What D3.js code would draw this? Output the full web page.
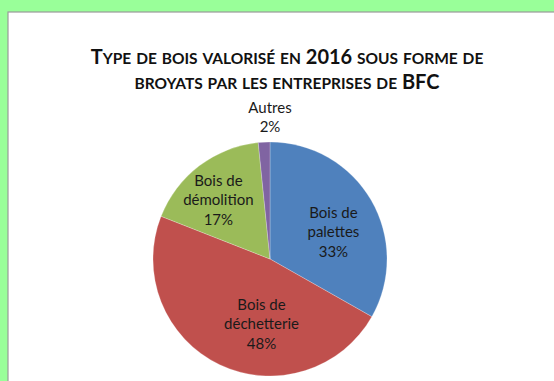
<!DOCTYPE html>
<html><head><meta charset="utf-8">
<script src="https://cdn.jsdelivr.net/npm/d3@7"></script>
<style>
html,body{margin:0;padding:0;background:#99FF99;}
svg{display:block;}
text{font-family:Lato,"Open Sans",sans-serif;}
</style></head>
<body>
<svg id="chart" width="554" height="381"></svg>
<script>
const titleLines = ["Type de bois valorisé en 2016 sous forme de", "broyats par les entreprises de BFC"];
const categories = ["Bois de palettes", "Bois de déchetterie", "Bois de démolition", "Autres"];
const values = [33.1, 47.6, 17.4, 1.6];
const colors = ["#4F81BD", "#C0504D", "#9BBB59", "#8064A2"];

const svg = d3.select("#chart");
svg.append("rect").attr("width",554).attr("height",381).attr("fill","#99FF99");
svg.append("rect").attr("x",8).attr("y",12).attr("width",560).attr("height",380)
  .attr("fill","#fff").attr("stroke","#9a9a9a").attr("stroke-width",1.2);

// Title with small caps
const bigSize = 20, smallSize = 15.5;
titleLines.forEach((line, i) => {
  const t = svg.append("text").attr("x", 287).attr("y", 64 + i*25)
    .attr("text-anchor","middle").attr("font-weight","bold").attr("fill","#111");
  const runs = [];
  for (const ch of line) {
    const small = ch !== ch.toUpperCase() ;
    const last = runs[runs.length-1];
    if (last && last.small === small) last.s += ch; else runs.push({small, s: ch});
  }
  runs.forEach(r => t.append("tspan").attr("font-size", r.small ? smallSize : bigSize)
    .text(r.small ? r.s.toUpperCase() : r.s));
});

const cx = 270, cy = 259, R = 117;
const total = d3.sum(values);
const pie = d3.pie().sort(null).value(d => d.v);
const data = pie(categories.map((c,i) => ({c, v: values[i], col: colors[i]})));
const arc = d3.arc().innerRadius(0).outerRadius(R);
const g = svg.append("g").attr("transform", `translate(${cx},${cy})`);
g.selectAll("path").data(data).join("path")
  .attr("d", arc).attr("fill", d => d.data.col)
  .attr("stroke","#ffffff").attr("stroke-width",0.4).attr("stroke-opacity",0.6);

// label placement (angle shift in degrees, radius fraction) per slice — Excel "best fit"
const place = [
  {da: 7, r: 0.59},
  {da: -18, r: 0.56},
  {da: -4, r: 0.67},
  {da: null, r: 1.21}
];
const fs = 15, lh = 19.5;
data.forEach((d, i) => {
  const p = place[i];
  let a = (d.startAngle + d.endAngle)/2;
  if (p.da === null) a = 0; else a += p.da*Math.PI/180;
  const rr = p.r * R;
  const x = Math.sin(a)*rr, y = -Math.cos(a)*rr;
  const words = d.data.c.split(" ");
  const lines = words.length > 1 ? [words.slice(0,-1).join(" "), words[words.length-1]] : [words[0]];
  lines.push(Math.round(d.data.v/total*100) + "%");
  const t = g.append("text").attr("text-anchor","middle").attr("font-size", fs).attr("fill","#1a1a1a");
  const y0 = y - (lines.length-1)*lh/2 + fs*0.35;
  lines.forEach((l, k) => t.append("tspan").attr("x", x).attr("y", y0 + k*lh).text(l));
});
</script>
</body></html>
